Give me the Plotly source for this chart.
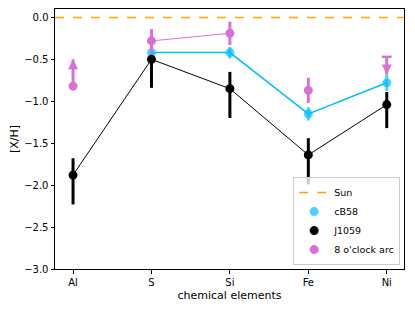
import plotly.graph_objects as go

# ---- data ----
elements = ["Al", "S", "Si", "Fe", "Ni"]
sun_value = 0.0

cb58_elements = ["S", "Si", "Fe", "Ni"]
cb58_values = [-0.42, -0.42, -1.15, -0.78]
cb58_err = [0.08, 0.07, 0.08, 0.10]

j1059_elements = ["Al", "S", "Si", "Fe", "Ni"]
j1059_values = [-1.88, -0.50, -0.85, -1.64, -1.04]
j1059_err_up = [0.20, 0.00, 0.20, 0.20, 0.15]
j1059_err_down = [0.35, 0.34, 0.35, 0.35, 0.28]

arc_elements = ["S", "Si", "Fe"]
arc_values = [-0.28, -0.19, -0.87]
arc_err = [0.14, 0.14, 0.15]
arc_line_elements = ["S", "Si"]
arc_line_values = [-0.28, -0.19]

arc_lowlim_elements = ["Al"]
arc_lowlim_values = [-0.82]
arc_lowlim_len = [0.32]

arc_uplim_elements = ["Ni"]
arc_uplim_values = [-0.47]
arc_uplim_len = [0.21]

x_range = [-0.23, 4.22]
y_range = [-3.0, 0.1]
y_ticks = [0.0, -0.5, -1.0, -1.5, -2.0, -2.5, -3.0]

# ---- helpers ----
idx = {e: i for i, e in enumerate(elements)}
def xs(lst):
    return [idx[e] for e in lst]

C_CYAN = "#00BFFF"
C_CYAN_A = "rgba(0,191,255,0.7)"
C_PINK = "#DA70D6"
C_ORANGE = "#FFA500"
FONT = "DejaVu Sans"

fig = go.Figure()

# Sun
fig.add_trace(go.Scatter(x=x_range, y=[sun_value, sun_value], mode="lines",
                         line=dict(color=C_ORANGE, width=1.5, dash="dash"),
                         name="Sun", showlegend=True, hoverinfo="skip"))

# cB58
fig.add_trace(go.Scatter(x=xs(cb58_elements), y=cb58_values, mode="lines+markers",
                         line=dict(color=C_CYAN, width=1.5),
                         marker=dict(color=C_CYAN_A, size=9, line=dict(width=0)),
                         error_y=dict(type="data", array=cb58_err, visible=True,
                                      thickness=3, width=0, color=C_CYAN_A),
                         showlegend=False))

# J1059
fig.add_trace(go.Scatter(x=xs(j1059_elements), y=j1059_values, mode="lines+markers",
                         line=dict(color="black", width=1),
                         marker=dict(color="black", size=9, line=dict(width=0)),
                         error_y=dict(type="data", symmetric=False, array=j1059_err_up,
                                      arrayminus=j1059_err_down, visible=True,
                                      thickness=3, width=0, color="black"),
                         showlegend=False))

# 8 o'clock arc: connecting line
fig.add_trace(go.Scatter(x=xs(arc_line_elements), y=arc_line_values, mode="lines",
                         line=dict(color=C_PINK, width=1), showlegend=False,
                         hoverinfo="skip"))
# detections
fig.add_trace(go.Scatter(x=xs(arc_elements), y=arc_values, mode="markers",
                         marker=dict(color=C_PINK, size=9, line=dict(width=0)),
                         error_y=dict(type="data", array=arc_err, visible=True,
                                      thickness=3, width=0, color=C_PINK),
                         showlegend=False))
# lower limit (Al)
fig.add_trace(go.Scatter(x=xs(arc_lowlim_elements), y=arc_lowlim_values, mode="markers",
                         marker=dict(color=C_PINK, size=9, line=dict(width=0)),
                         error_y=dict(type="data", symmetric=False, array=arc_lowlim_len,
                                      arrayminus=[0] * len(arc_lowlim_len), visible=True,
                                      thickness=3, width=0, color=C_PINK),
                         showlegend=False))
fig.add_trace(go.Scatter(x=xs(arc_lowlim_elements),
                         y=[v + l for v, l in zip(arc_lowlim_values, arc_lowlim_len)],
                         mode="markers",
                         marker=dict(color=C_PINK, size=10, symbol="arrow-up",
                                     line=dict(width=0)),
                         showlegend=False))
# upper limit (Ni)
fig.add_trace(go.Scatter(x=xs(arc_uplim_elements), y=arc_uplim_values, mode="markers",
                         marker=dict(color=C_PINK, size=7, symbol="line-ew",
                                     line=dict(width=2.5, color=C_PINK)),
                         error_y=dict(type="data", symmetric=False,
                                      array=[0] * len(arc_uplim_len),
                                      arrayminus=arc_uplim_len, visible=True,
                                      thickness=3, width=0, color=C_PINK),
                         showlegend=False))
fig.add_trace(go.Scatter(x=xs(arc_uplim_elements),
                         y=[v - l for v, l in zip(arc_uplim_values, arc_uplim_len)],
                         mode="markers",
                         marker=dict(color=C_PINK, size=10, symbol="arrow-down",
                                     line=dict(width=0)),
                         showlegend=False))

# legend-only entries
for name, col in [("cB58", C_CYAN_A), ("J1059", "black"), ("8 o'clock arc", C_PINK)]:
    fig.add_trace(go.Scatter(x=[None], y=[None], mode="markers", name=name,
                             marker=dict(color=col, size=9, line=dict(width=0))))

axis_common = dict(showline=True, linecolor="black", linewidth=1, mirror=True,
                   ticks="outside", ticklen=3.5, tickwidth=1, tickcolor="black",
                   showgrid=False, zeroline=False, automargin=False,
                   tickfont=dict(family=FONT, size=10, color="black"))

fig.update_xaxes(range=x_range, tickmode="array", tickvals=list(range(len(elements))),
                 ticktext=elements,
                 title=dict(text="chemical elements", standoff=4,
                            font=dict(family=FONT, size=11, color="black")),
                 **axis_common)
fig.update_yaxes(range=y_range, tickmode="array", tickvals=y_ticks, tickformat=".1f",
                 title=dict(text="[X/H]", standoff=4,
                            font=dict(family=FONT, size=11, color="black")),
                 **axis_common)

# page body has an 8px default margin, so the figure is shrunk by 8px
fig.update_layout(
    width=407, height=303,
    margin=dict(l=47, r=11, t=1, b=42, autoexpand=False),
    paper_bgcolor="white", plot_bgcolor="white",
    font=dict(family=FONT, size=10, color="black"),
    legend=dict(x=0.989, y=0.015, xanchor="right", yanchor="bottom",
                bgcolor="rgba(255,255,255,0.8)", bordercolor="#cccccc", borderwidth=1,
                font=dict(family=FONT, size=9.5), tracegroupgap=0,
                itemwidth=30),
)

fig.write_html("out.html")
